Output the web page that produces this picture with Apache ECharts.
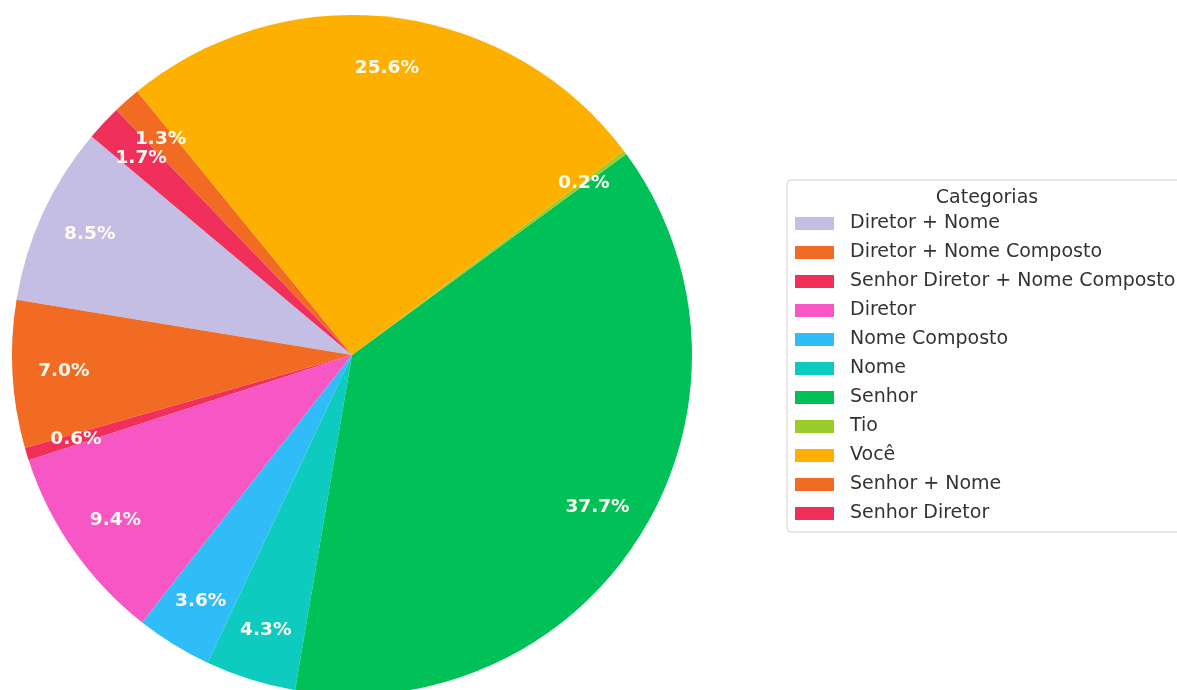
<!DOCTYPE html>
<html>
<head>
<meta charset="utf-8">
<script src="https://cdn.jsdelivr.net/npm/echarts@6/dist/echarts.min.js"></script>
<style>
html,body{margin:0;padding:0;background:#fff;}
#chart{width:1177px;height:690px;}
</style>
</head>
<body>
<div id="chart"></div>
<script>
const categories = ["Diretor + Nome", "Diretor + Nome Composto", "Senhor Diretor + Nome Composto", "Diretor", "Nome Composto", "Nome", "Senhor", "Tio", "Você", "Senhor + Nome", "Senhor Diretor"];
const percentages = [8.5, 7.0, 0.6, 9.4, 3.6, 4.3, 37.7, 0.2, 25.6, 1.3, 1.7];
const colors = ["#c4bee4", "#f26b22", "#f0305b", "#f657c4", "#30bcf6", "#0ecbc0", "#00c158", "#9ccb2c", "#feb000", "#f26b22", "#f0305b"];
const legendTitle = "Categorias";

const chart = echarts.init(document.getElementById('chart'), null, {renderer: 'canvas'});
const sliceData = categories.map((c, i) => ({name: c, value: percentages[i], itemStyle: {color: colors[i]}}));
const labelData = categories.map((c, i) => ({name: c, value: percentages[i]}));

const R = 340;
const CENTER = [352, 355];
chart.setOption({
  animation: false,
  title: {
    text: legendTitle,
    left: 982,
    top: 184,
    textAlign: 'center',
    textStyle: {fontFamily: 'DejaVu Sans', fontSize: 19, fontWeight: 'normal', color: '#333'}
  },
  legend: {
    orient: 'vertical',
    left: 787,
    top: 180,
    data: categories,
    icon: 'rect',
    itemWidth: 39,
    itemHeight: 13,
    itemGap: 10,
    padding: [34, 30, 9, 8],
    borderColor: '#d0d0d0',
    borderWidth: 1,
    borderRadius: 4,
    backgroundColor: '#fff',
    selectedMode: false,
    textStyle: {fontFamily: 'DejaVu Sans', fontSize: 19, lineHeight: 19, color: '#333', padding: [0, 0, 0, 11]}
  },
  series: [
    {
      type: 'pie',
      center: CENTER,
      radius: [0, R],
      startAngle: 140,
      clockwise: false,
      avoidLabelOverlap: false,
      label: {show: false},
      labelLine: {show: false},
      itemStyle: {borderWidth: 0},
      emphasis: {disabled: true},
      data: sliceData
    },
    {
      type: 'pie',
      center: CENTER,
      radius: [R * 0.68, R],
      startAngle: 140,
      clockwise: false,
      silent: true,
      avoidLabelOverlap: false,
      legendHoverLink: false,
      itemStyle: {color: 'rgba(0,0,0,0)', borderWidth: 0},
      labelLine: {show: false},
      label: {
        show: true,
        position: 'inside',
        formatter: p => p.value.toFixed(1) + '%',
        fontFamily: 'DejaVu Sans',
        fontWeight: 'bold',
        fontSize: 18.5,
        color: '#fffaf0'
      },
      emphasis: {disabled: true},
      data: labelData
    }
  ]
});
</script>
</body>
</html>
